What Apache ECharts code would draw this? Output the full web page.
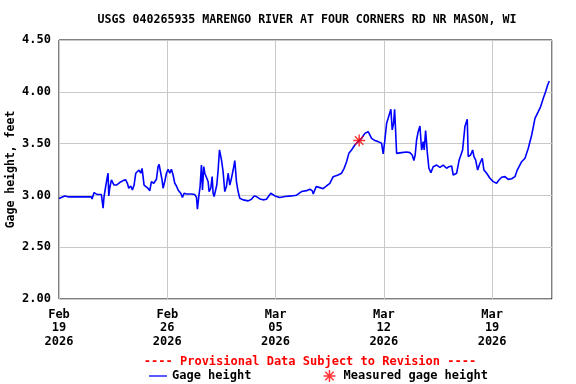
<!DOCTYPE html>
<html>
<head>
<meta charset="utf-8">
<script src="https://cdn.jsdelivr.net/npm/echarts@6/dist/echarts.min.js"></script>
<style>html,body{margin:0;padding:0;background:#fff;}#c{width:576px;height:384px;}</style>
</head>
<body>
<div id="c"></div>
<script>
// Hours after 2026-02-19 00:00
const hours = [0, 8.8, 14.0, 29.5, 31.1, 32.6, 50.2, 51.3, 54.4, 56.5,
  59.6, 65.8, 68.4, 69.9, 72.0, 74.6, 76.1, 77.2, 78.7, 81.3,
  82.3, 85.4, 89.1, 94.2, 99.4, 103.5, 106.1, 108.2, 111.3, 113.9,
  116.5, 119.1, 121.7, 124.2, 126.8, 128.9, 130.4, 132.0, 134.1, 138.2,
  140.8, 143.4, 147.0, 151.2, 153.7, 155.3, 157.9, 159.9, 161.5, 164.1,
  166.7, 169.3, 171.9, 174.4, 177.0, 179.6, 182.2, 184.8, 188.9, 191.5,
  194.1, 197.7, 205.5, 210.7, 213.3, 214.8, 216.9, 218.9, 221.0, 222.6,
  224.6, 226.2, 228.8, 231.3, 232.9, 235.5, 237.6, 239.1, 240.7, 242.7,
  244.8, 246.9, 249.0, 250.5, 252.1, 254.6, 257.2, 259.8, 262.4, 265.0,
  267.6, 270.2, 272.8, 275.3, 277.9, 280.5, 285.7, 293.5, 298.6, 302.8,
  306.4, 311.6, 316.7, 321.9, 328.6, 334.9, 342.6, 350.4, 360.7, 368.5,
  376.3, 384.0, 389.2, 392.8, 394.4, 399.0, 404.7, 409.8, 415.1, 420.2,
  425.4, 433.1, 438.4, 442.4, 446.2, 449.7, 453.9, 459.0, 465.7, 469.4,
  474.6, 479.7, 482.3, 485.0, 490.1, 495.2, 500.5, 503.0, 505.6, 508.3,
  510.7, 513.4, 514.9, 517.0, 519.1, 520.7, 522.2, 523.8, 526.3, 531.5,
  539.3, 544.4, 548.0, 550.6, 552.6, 554.8, 557.3, 560.0, 562.6, 565.1,
  566.6, 568.8, 571.3, 573.9, 577.0, 580.6, 585.9, 591.0, 596.1, 601.4,
  605.0, 609.2, 611.6, 614.3, 616.9, 620.9, 623.6, 626.2, 629.8, 633.4,
  634.9, 638.6, 641.8, 643.8, 646.4, 649.5, 653.1, 656.7, 659.3, 663.5,
  668.6, 673.7, 678.9, 682.6, 686.8, 691.9, 697.0, 702.3, 707.4, 711.0,
  717.8, 723.0, 728.1, 733.4, 738.5, 743.6, 747.3, 751.4, 755.1, 758.2,
  760.7];
const gageHeight = [2.97, 2.995, 2.986, 2.986, 2.976, 2.986, 2.986, 2.966, 3.027, 3.014,
  3.008, 3.008, 2.876, 2.989, 3.069, 3.166, 3.214, 2.995, 3.069, 3.15,
  3.156, 3.10, 3.10, 3.124, 3.143, 3.15, 3.117, 3.069, 3.091, 3.053,
  3.10, 3.214, 3.22, 3.245, 3.214, 3.261, 3.271, 3.10, 3.085, 3.069,
  3.043, 3.134, 3.117, 3.156, 3.278, 3.30, 3.214, 3.15, 3.069, 3.134,
  3.214, 3.252, 3.214, 3.252, 3.197, 3.117, 3.091, 3.053, 3.021, 2.979,
  3.021, 3.014, 3.014, 3.008, 2.982, 2.866, 2.989, 3.085, 3.293, 3.053,
  3.278, 3.214, 3.197, 3.134, 3.037, 3.069, 3.181, 3.021, 2.989, 3.005,
  3.10, 3.245, 3.439, 3.445, 3.342, 3.23, 3.037, 3.085, 3.214, 3.10,
  3.166, 3.245, 3.336, 3.134, 3.037, 2.973, 2.957, 2.947, 2.963, 2.995,
  2.989, 2.966, 2.957, 2.963, 3.021, 2.995, 2.979, 2.989, 2.995, 3.002,
  3.037, 3.046, 3.059, 3.046, 3.014, 3.085, 3.075, 3.065, 3.091, 3.117,
  3.181, 3.197, 3.214, 3.262, 3.325, 3.406, 3.438, 3.486, 3.529, 3.551,
  3.599, 3.615, 3.606, 3.551, 3.529, 3.519, 3.503, 3.40, 3.535, 3.696,
  3.744, 3.728, 3.832, 3.632, 3.696, 3.832, 3.632, 3.406, 3.39, 3.413,
  3.419, 3.413, 3.39, 3.336, 3.39, 3.535, 3.615, 3.670, 3.438, 3.519,
  3.438, 3.626, 3.422, 3.262, 3.220, 3.277, 3.293, 3.271, 3.293, 3.262,
  3.277, 3.284, 3.197, 3.181, 3.214, 3.342, 3.342, 3.438, 3.664, 3.735,
  3.375, 3.39, 3.438, 3.375, 3.342, 3.245, 3.31, 3.358, 3.245, 3.214,
  3.165, 3.133, 3.117, 3.149, 3.175, 3.181, 3.155, 3.161, 3.181, 3.245,
  3.325, 3.358, 3.455, 3.583, 3.744, 3.809, 3.857, 3.938, 4.002, 4.066,
  4.104];
const measuredHours = [465.7];
const measuredValues = [3.53];
const xTickLabels = ['Feb\n19\n2026', 'Feb\n26\n2026', 'Mar\n05\n2026', 'Mar\n12\n2026', 'Mar\n19\n2026'];
const titleText = 'USGS 040265935 MARENGO RIVER AT FOUR CORNERS RD NR MASON, WI';
const provisionalText = '---- Provisional Data Subject to Revision ----';

const FONT = '"DejaVu Sans Mono", monospace';
const asterisk = 'path://M-0.6,-5L0.6,-5L0.6,5L-0.6,5Z M-5,-0.6L5,-0.6L5,0.6L-5,0.6Z M-3.08,-3.92L3.92,3.08L3.08,3.92L-3.92,-3.08Z M-3.92,3.08L3.08,-3.92L3.92,-3.08L-3.08,3.92Z';
const lineIcon = 'path://M0,0L18,0L18,1.3L0,1.3Z';

const chart = echarts.init(document.getElementById('c'));
chart.setOption({
  animation: false,
  backgroundColor: '#fff',
  grid: { left: 59, right: 24, top: 40, bottom: 85, outerBoundsMode: 'none', containLabel: false, show: true, borderColor: '#000', borderWidth: 1, backgroundColor: 'transparent' },
  xAxis: {
    type: 'value', min: 0, max: 764.9, interval: 168,
    axisLine: { show: false }, axisTick: { show: false },
    splitLine: { show: true, lineStyle: { color: '#c8c8c8', width: 1 } },
    axisLabel: {
      margin: 9, color: '#000', fontFamily: FONT, fontSize: 12, fontWeight: 'bold', lineHeight: 13.5,
      showMaxLabel: false,
      formatter: function (v) { const i = Math.round(v / 168); return Math.abs(v - i * 168) < 1e-6 && xTickLabels[i] ? xTickLabels[i] : ''; }
    }
  },
  yAxis: {
    type: 'value', min: 2, max: 4.5, interval: 0.5,
    name: 'Gage height, feet', nameLocation: 'middle', nameGap: 42, nameMoveOverlap: false,
    nameTextStyle: { color: '#000', fontFamily: FONT, fontSize: 11.5, fontWeight: 'bold' },
    axisLine: { show: false }, axisTick: { show: false },
    splitLine: { show: true, lineStyle: { color: '#c8c8c8', width: 1 } },
    axisLabel: { margin: 8, color: '#000', fontFamily: FONT, fontSize: 12, fontWeight: 'bold', formatter: v => v.toFixed(2) }
  },
  legend: {
    left: 144, top: 365, itemWidth: 18, itemHeight: 12, itemGap: 72, symbolKeepAspect: true,
    textStyle: { color: '#000', fontFamily: FONT, fontSize: 12, fontWeight: 'bold' },
    data: [{ name: 'Gage height', icon: lineIcon }, { name: 'Measured gage height', icon: asterisk }]
  },
  graphic: [
    { type: 'text', x: 307, y: 20, style: { text: titleText, align: 'center', verticalAlign: 'middle', fill: '#000', font: 'bold 11.6px ' + FONT } },
    { type: 'text', x: 310, y: 362, style: { text: provisionalText, align: 'center', verticalAlign: 'middle', fill: '#ff0000', font: 'bold 12px ' + FONT } }
  ],
  series: [
    {
      name: 'Gage height', type: 'line', symbol: 'none', smooth: false,
      lineStyle: { color: '#0000ff', width: 1.6 }, itemStyle: { color: '#0000ff' },
      data: hours.map((h, i) => [h, gageHeight[i]]), z: 2
    },
    {
      name: 'Measured gage height', type: 'scatter', symbol: asterisk, symbolSize: 12,
      itemStyle: { color: '#ff0000' },
      data: measuredHours.map((h, i) => [h, measuredValues[i]]), z: 3
    }
  ]
});
</script>
</body>
</html>
